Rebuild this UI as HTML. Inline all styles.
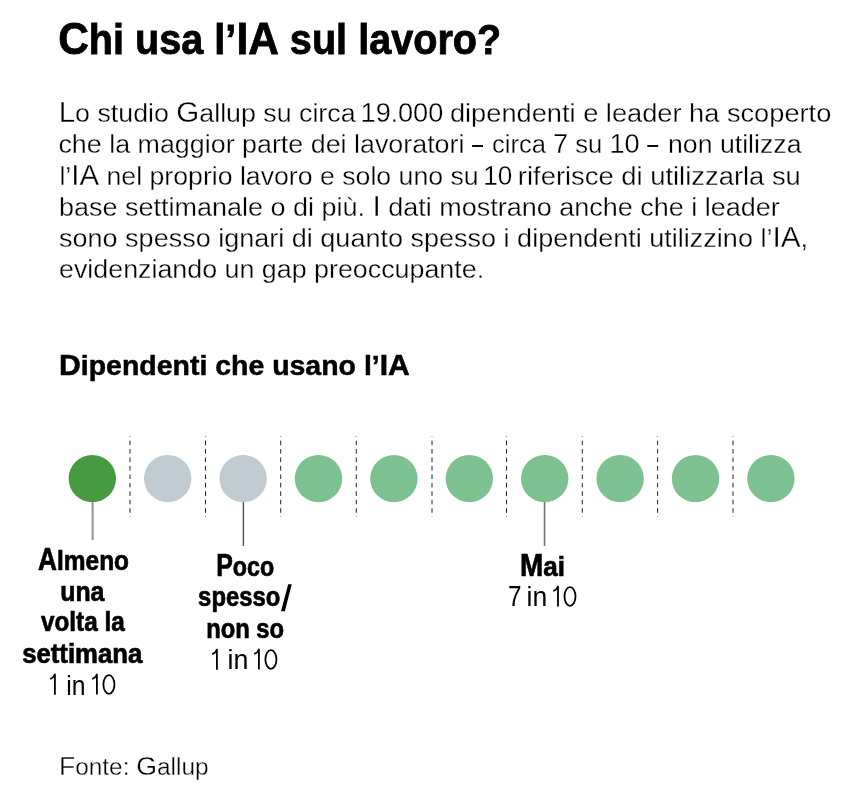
<!DOCTYPE html>
<html><head><meta charset="utf-8"><style>
html,body{margin:0;padding:0;background:#fff;}
body{width:847px;height:806px;overflow:hidden;}
svg{display:block;will-change:transform;}
text{font-family:"Liberation Sans",sans-serif;fill:#000;}
</style></head><body>
<svg width="847" height="806" viewBox="0 0 847 806">
<line x1="130.00" y1="436.2" x2="130.00" y2="517" stroke="#222" stroke-width="1" stroke-dasharray="4.6 3.85" stroke-dashoffset="4.05"/>
<line x1="205.50" y1="436.2" x2="205.50" y2="517" stroke="#222" stroke-width="1" stroke-dasharray="4.6 3.85" stroke-dashoffset="4.05"/>
<line x1="280.70" y1="436.2" x2="280.70" y2="517" stroke="#222" stroke-width="1" stroke-dasharray="4.6 3.85" stroke-dashoffset="4.05"/>
<line x1="356.30" y1="436.2" x2="356.30" y2="517" stroke="#222" stroke-width="1" stroke-dasharray="4.6 3.85" stroke-dashoffset="4.05"/>
<line x1="432.00" y1="436.2" x2="432.00" y2="517" stroke="#222" stroke-width="1" stroke-dasharray="4.6 3.85" stroke-dashoffset="4.05"/>
<line x1="506.50" y1="436.2" x2="506.50" y2="517" stroke="#222" stroke-width="1" stroke-dasharray="4.6 3.85" stroke-dashoffset="4.05"/>
<line x1="582.30" y1="436.2" x2="582.30" y2="517" stroke="#222" stroke-width="1" stroke-dasharray="4.6 3.85" stroke-dashoffset="4.05"/>
<line x1="657.60" y1="436.2" x2="657.60" y2="517" stroke="#222" stroke-width="1" stroke-dasharray="4.6 3.85" stroke-dashoffset="4.05"/>
<line x1="733.00" y1="436.2" x2="733.00" y2="517" stroke="#222" stroke-width="1" stroke-dasharray="4.6 3.85" stroke-dashoffset="4.05"/>
<circle cx="92.30" cy="478.6" r="23.7" fill="#479a42"/>
<circle cx="167.70" cy="478.6" r="23.7" fill="#c0cbd2"/>
<circle cx="243.10" cy="478.6" r="23.7" fill="#c0cbd2"/>
<circle cx="318.50" cy="478.6" r="23.7" fill="#7ec190"/>
<circle cx="393.90" cy="478.6" r="23.7" fill="#7ec190"/>
<circle cx="469.30" cy="478.6" r="23.7" fill="#7ec190"/>
<circle cx="544.70" cy="478.6" r="23.7" fill="#7ec190"/>
<circle cx="620.10" cy="478.6" r="23.7" fill="#7ec190"/>
<circle cx="695.50" cy="478.6" r="23.7" fill="#7ec190"/>
<circle cx="770.90" cy="478.6" r="23.7" fill="#7ec190"/>
<rect x="91" y="502" width="1" height="38" fill="#d0d0d0" shape-rendering="crispEdges"/>
<rect x="92" y="502" width="1" height="38" fill="#999999" shape-rendering="crispEdges"/>
<rect x="93" y="502" width="1" height="38" fill="#b8b8b8" shape-rendering="crispEdges"/>
<rect x="242" y="502" width="1" height="44" fill="#c4c4c4" shape-rendering="crispEdges"/>
<rect x="243" y="502" width="1" height="44" fill="#555555" shape-rendering="crispEdges"/>
<rect x="244" y="502" width="1" height="44" fill="#eeeeee" shape-rendering="crispEdges"/>
<rect x="543" y="502" width="1" height="44" fill="#dcdcdc" shape-rendering="crispEdges"/>
<rect x="544" y="502" width="1" height="44" fill="#777777" shape-rendering="crispEdges"/>
<rect x="545" y="502" width="1" height="44" fill="#cccccc" shape-rendering="crispEdges"/>
<rect x="472.1" y="145.05" width="10.9" height="1.9" fill="#000"/>
<rect x="647.3" y="145.05" width="10.9" height="1.9" fill="#000"/>
<path d="M50.2,678.8 Q53.3,678.2 54.9,674.4 L54.9,694.7" fill="none" stroke="#000" stroke-width="1.8" stroke-linejoin="round"/>
<path d="M212.2,654.0 Q215.3,653.4 216.9,649.6 L216.9,669.7" fill="none" stroke="#000" stroke-width="1.8" stroke-linejoin="round"/>
<path d="M92.2,678.9 Q95.3,678.3 96.9,674.5 L96.9,694.5" fill="none" stroke="#000" stroke-width="1.8" stroke-linejoin="round"/>
<path d="M254.2,653.9 Q257.3,653.3 258.9,649.5 L258.9,669.5" fill="none" stroke="#000" stroke-width="1.8" stroke-linejoin="round"/>
<path d="M553.3,590.9 Q556.4,590.3 558.0,586.5 L558.0,606.5" fill="none" stroke="#000" stroke-width="1.8" stroke-linejoin="round"/>
<ellipse cx="108.92" cy="684.45" rx="5.52" ry="9.35" fill="none" stroke="#000" stroke-width="1.8"/>
<ellipse cx="270.93" cy="659.45" rx="5.53" ry="9.35" fill="none" stroke="#000" stroke-width="1.8"/>
<ellipse cx="570.00" cy="596.45" rx="5.50" ry="9.35" fill="none" stroke="#000" stroke-width="1.8"/>
<polygon points="288.2,584.2 291.8,584.2 284.8,611.2 281.0,611.2" fill="#000"/>
<text x="58.14" y="54" font-weight="bold" font-size="42" textLength="443.17" lengthAdjust="spacingAndGlyphs" stroke="#000" stroke-width="0.8"><tspan font-size="45">C</tspan>hi usa l’<tspan font-size="45">IA</tspan> sul lavoro?</text>
<text x="58.70" y="122" font-weight="normal" font-size="26" textLength="296.84" lengthAdjust="spacingAndGlyphs" stroke="#fff" stroke-width="0.3"><tspan font-size="28.7">L</tspan>o studio <tspan font-size="28.7">G</tspan>allup su circa</text>
<text x="360.58" y="122" font-weight="normal" font-size="26" textLength="82.69" lengthAdjust="spacingAndGlyphs" stroke="#fff" stroke-width="0.3"><tspan font-size="27.6">19</tspan>.<tspan font-size="27.6">000</tspan></text>
<text x="449.95" y="122" font-weight="normal" font-size="26" textLength="381.38" lengthAdjust="spacingAndGlyphs" stroke="#fff" stroke-width="0.3">dipendenti e leader ha scoperto</text>
<text x="58.44" y="153.3" font-weight="normal" font-size="26" textLength="406.04" lengthAdjust="spacingAndGlyphs" stroke="#fff" stroke-width="0.3">che la maggior parte dei lavoratori</text>
<text x="492.00" y="153.3" font-weight="normal" font-size="26" textLength="147.62" lengthAdjust="spacingAndGlyphs" stroke="#fff" stroke-width="0.3">circa <tspan font-size="27.6">7</tspan> su <tspan font-size="27.6">10</tspan></text>
<text x="667.95" y="153.3" font-weight="normal" font-size="26" textLength="133.56" lengthAdjust="spacingAndGlyphs" stroke="#fff" stroke-width="0.3">non utilizza</text>
<text x="59.41" y="184.6" font-weight="normal" font-size="26" textLength="419.26" lengthAdjust="spacingAndGlyphs" stroke="#fff" stroke-width="0.3">l’<tspan font-size="28.7">IA</tspan> nel proprio lavoro e solo uno su</text>
<text x="483.21" y="184.6" font-weight="normal" font-size="26" textLength="29.03" lengthAdjust="spacingAndGlyphs" stroke="#fff" stroke-width="0.3"><tspan font-size="27.6">10</tspan></text>
<text x="517.89" y="184.6" font-weight="normal" font-size="26" textLength="282.95" lengthAdjust="spacingAndGlyphs" stroke="#fff" stroke-width="0.3">riferisce di utilizzarla su</text>
<text x="59.00" y="215.5" font-weight="normal" font-size="26" textLength="720.78" lengthAdjust="spacingAndGlyphs" stroke="#fff" stroke-width="0.3">base settimanale o di più. <tspan font-size="28.7">I</tspan> dati mostrano anche che i leader</text>
<text x="59.01" y="246.5" font-weight="normal" font-size="26" textLength="749.13" lengthAdjust="spacingAndGlyphs" stroke="#fff" stroke-width="0.3">sono spesso ignari di quanto spesso i dipendenti utilizzino l’<tspan font-size="28.7">IA</tspan>,</text>
<text x="59.02" y="278.2" font-weight="normal" font-size="26" textLength="425.08" lengthAdjust="spacingAndGlyphs" stroke="#fff" stroke-width="0.3">evidenziando un gap preoccupante.</text>
<text x="59.01" y="375" font-weight="bold" font-size="28.3" textLength="350.89" lengthAdjust="spacingAndGlyphs" stroke="#000" stroke-width="0.5"><tspan font-size="30">D</tspan>ipendenti che usano l’<tspan font-size="30">IA</tspan></text>
<text x="38.10" y="570.1" font-weight="bold" font-size="28.5" textLength="90.98" lengthAdjust="spacingAndGlyphs" stroke="#000" stroke-width="0.7"><tspan font-size="30.5">A</tspan>lmeno</text>
<text x="60.20" y="600.8" font-weight="bold" font-size="28.5" textLength="44.25" lengthAdjust="spacingAndGlyphs" stroke="#000" stroke-width="0.7">una</text>
<text x="40.97" y="631.4" font-weight="bold" font-size="28.5" textLength="83.73" lengthAdjust="spacingAndGlyphs" stroke="#000" stroke-width="0.7">volta la</text>
<text x="22.17" y="663.3" font-weight="bold" font-size="28.5" textLength="120.09" lengthAdjust="spacingAndGlyphs" stroke="#000" stroke-width="0.7">settimana</text>
<text x="66.19" y="694.5" font-weight="normal" font-size="27.5" textLength="19.21" lengthAdjust="spacingAndGlyphs">in</text>
<text x="216.19" y="575.7" font-weight="bold" font-size="28.5" textLength="57.97" lengthAdjust="spacingAndGlyphs" stroke="#000" stroke-width="0.7"><tspan font-size="30.5">P</tspan>oco</text>
<text x="198.12" y="606.1" font-weight="bold" font-size="28.5" textLength="82.26" lengthAdjust="spacingAndGlyphs" stroke="#000" stroke-width="0.7">spesso</text>
<text x="206.17" y="637.5" font-weight="bold" font-size="28.5" textLength="77.92" lengthAdjust="spacingAndGlyphs" stroke="#000" stroke-width="0.7">non so</text>
<text x="227.55" y="669.3" font-weight="normal" font-size="27.5" textLength="20.81" lengthAdjust="spacingAndGlyphs">in</text>
<text x="520.07" y="575.7" font-weight="bold" font-size="28.5" textLength="44.96" lengthAdjust="spacingAndGlyphs" stroke="#000" stroke-width="0.7"><tspan font-size="30.5">M</tspan>ai</text>
<text x="507.88" y="606.4" font-weight="normal" font-size="27.5" textLength="13.50" lengthAdjust="spacingAndGlyphs"><tspan font-size="29">7</tspan></text>
<text x="526.61" y="606.4" font-weight="normal" font-size="27.5" textLength="20.63" lengthAdjust="spacingAndGlyphs">in</text>
<text x="58.91" y="774.8" font-weight="normal" font-size="23.5" textLength="149.64" lengthAdjust="spacingAndGlyphs" stroke="#fff" stroke-width="0.3"><tspan font-size="25.7">F</tspan>onte: <tspan font-size="25.7">G</tspan>allup</text>
</svg>
</body></html>
